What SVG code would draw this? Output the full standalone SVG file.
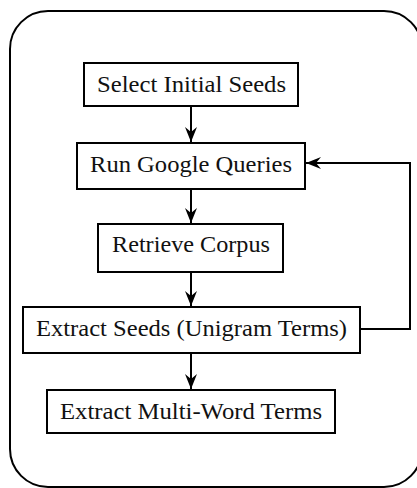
<svg xmlns="http://www.w3.org/2000/svg" width="417" height="488" viewBox="0 0 417 488">
<style>
.box{fill:#fff;stroke:#000;stroke-width:2}
.lbl{font-family:"Liberation Serif","Times New Roman",serif;font-size:24px;fill:#111;text-anchor:middle}
.edge{fill:none;stroke:#000;stroke-width:2}
</style>
<defs>
<marker id="ah" markerUnits="userSpaceOnUse" viewBox="-15 -7 16 14" refX="0" refY="0" markerWidth="16" markerHeight="14" orient="auto">
<path d="M0,0 L-15,-6 L-10,0 L-15,6 Z" fill="#000"/>
</marker>
</defs>
<rect width="417" height="488" fill="#fff"/>
<rect id="frame" x="10" y="11" width="412" height="476" rx="38" ry="38" fill="none" stroke="#000" stroke-width="2"/>
<g id="n1"><rect class="box" x="84" y="63" width="214" height="43"/><text class="lbl" x="191.5" y="92" textLength="189" lengthAdjust="spacingAndGlyphs">Select Initial Seeds</text></g>
<g id="n2"><rect class="box" x="77" y="143" width="228" height="46"/><text class="lbl" x="191" y="172" textLength="202" lengthAdjust="spacingAndGlyphs">Run Google Queries</text></g>
<g id="n3"><rect class="box" x="98" y="224" width="185" height="48"/><text class="lbl" x="191" y="252" textLength="158" lengthAdjust="spacingAndGlyphs">Retrieve Corpus</text></g>
<g id="n4"><rect class="box" x="23" y="307" width="337" height="46"/><text class="lbl" x="191.5" y="336" textLength="311" lengthAdjust="spacingAndGlyphs">Extract Seeds (Unigram Terms)</text></g>
<g id="n5"><rect class="box" x="47" y="390" width="288" height="43"/><text class="lbl" x="191" y="419" textLength="262" lengthAdjust="spacingAndGlyphs">Extract Multi-Word Terms</text></g>
<g id="edges">
<line class="edge" x1="191" y1="106" x2="191" y2="142" marker-end="url(#ah)"/>
<line class="edge" x1="191" y1="189" x2="191" y2="223" marker-end="url(#ah)"/>
<line class="edge" x1="191" y1="272" x2="191" y2="306" marker-end="url(#ah)"/>
<line class="edge" x1="191" y1="353" x2="191" y2="389" marker-end="url(#ah)"/>
<polyline class="edge" points="360,329 410,329 410,163 306,163" marker-end="url(#ah)"/>
</g>
</svg>
